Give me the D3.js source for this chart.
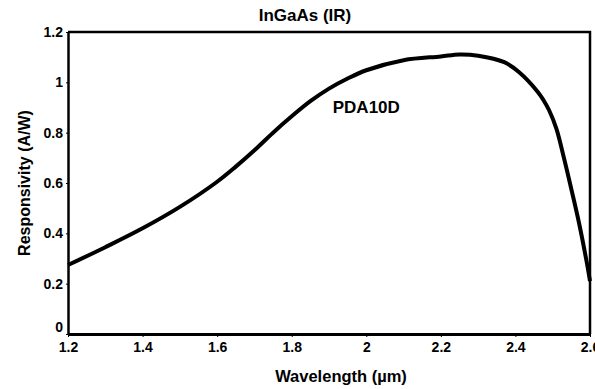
<!DOCTYPE html>
<html>
<head>
<meta charset="utf-8">
<script src="https://cdn.jsdelivr.net/npm/d3@7"></script>
<style>
  body { margin: 0; background: #fff; }
  svg { display: block; font-family: "Liberation Sans", Arial, sans-serif; }
  .axis text { font-size: 14px; font-weight: bold; fill: #000; }
  .axis path, .axis line { stroke: #000; }
</style>
</head>
<body>
<div class="chart"></div>
<script>
(function() {
var W = 595, H = 389,
    margin = {top: 32, right: 5, bottom: 55, left: 68},
    width = W - margin.left - margin.right,
    height = H - margin.top - margin.bottom;

// PDA10D responsivity
const wavelength = [1.2, 1.3, 1.4, 1.5, 1.6, 1.65, 1.7, 1.75, 1.8, 1.85, 1.9, 1.95, 2.0, 2.1, 2.2, 2.25, 2.3, 2.37, 2.41, 2.46, 2.475, 2.49, 2.51, 2.53, 2.55, 2.57, 2.59, 2.6]
const responsivity = [0.274, 0.345, 0.42, 0.505, 0.605, 0.665, 0.73, 0.80, 0.865, 0.925, 0.975, 1.015, 1.048, 1.088, 1.103, 1.111, 1.106, 1.08, 1.04, 0.962, 0.93, 0.89, 0.815, 0.70, 0.575, 0.445, 0.295, 0.21]
const xTicks = [1.2, 1.4, 1.6, 1.8, 2.0, 2.2, 2.4, 2.6]
const yTicks = [0, 0.2, 0.4, 0.6, 0.8, 1, 1.2]

var svg = d3.select(".chart").append("svg")
    .attr("width", W)
    .attr("height", H);

var x = d3.scaleLinear().domain([1.2, 2.6]).range([0, width]);
var y = d3.scaleLinear().domain([0, 1.2]).range([height, 0]);

var g = svg.append("g")
    .attr("transform", "translate(" + margin.left + "," + margin.top + ")");

// frame top + right
g.append("path")
    .attr("d", "M" + x.range()[0] + "," + y.range()[1] + "H" + x.range()[1] + "V" + y.range()[0])
    .attr("fill", "none")
    .attr("stroke", "#000")
    .attr("stroke-width", 2.5);

g.append("g")
    .attr("class", "axis axis--x")
    .attr("transform", "translate(0," + height + ")")
    .call(d3.axisBottom(x).tickValues(xTicks).tickSize(3).tickPadding(5).tickSizeOuter(0)
        .tickFormat(d3.format("")))
    .call(a => a.select(".domain").attr("stroke-width", 3));

g.append("g")
    .attr("class", "axis axis--y")
    .call(d3.axisLeft(y).tickValues(yTicks).tickSize(2).tickPadding(3).tickSizeOuter(0)
        .tickFormat(d3.format("")))
    .call(a => a.select(".domain").attr("stroke-width", 2.5))
    .call(a => a.selectAll(".tick text").filter(d => d === 0).attr("dy", "-0.18em"));

var line = d3.line()
    .x((d, i) => x(wavelength[i]))
    .y(d => y(d))
    .curve(d3.curveCatmullRom.alpha(0.5));

g.append("path")
    .datum(responsivity)
    .attr("fill", "none")
    .attr("stroke", "#000")
    .attr("stroke-width", 4)
    .attr("stroke-linejoin", "round")
    .attr("d", line);

g.append("text")
    .attr("x", x(2.0))
    .attr("y", y(0.88))
    .attr("text-anchor", "middle")
    .style("font-size", "17px")
    .style("font-weight", "bold")
    .text("PDA10D");

// title + axis titles
svg.append("text")
    .attr("x", 305)
    .attr("y", 21)
    .attr("text-anchor", "middle")
    .style("font-size", "17px")
    .style("font-weight", "bold")
    .text("InGaAs (IR)");

svg.append("text")
    .attr("x", 341)
    .attr("y", 382)
    .attr("text-anchor", "middle")
    .style("font-size", "16.5px")
    .style("font-weight", "bold")
    .text("Wavelength (µm)");

svg.append("text")
    .attr("transform", "translate(30," + 183 + ") rotate(-90)")
    .attr("text-anchor", "middle")
    .style("font-size", "16px")
    .style("font-weight", "bold")
    .text("Responsivity (A/W)");
}())
</script>
</body>
</html>
